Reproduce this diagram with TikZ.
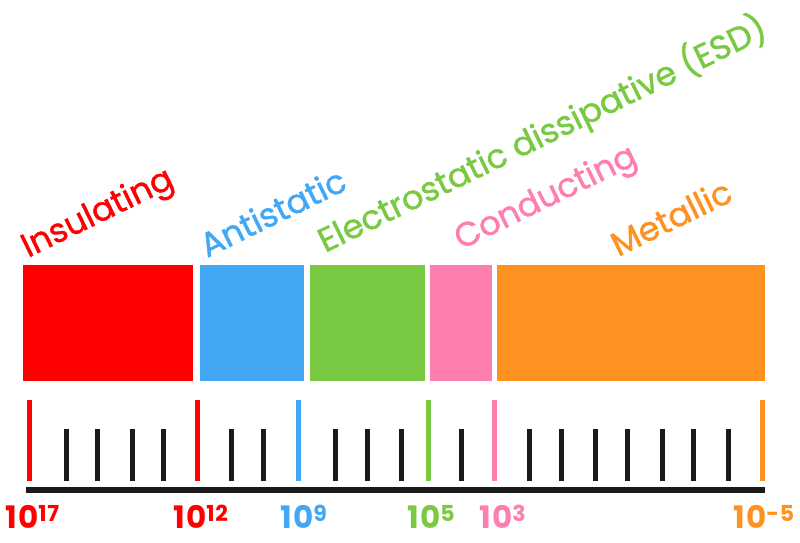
\documentclass[tikz,border=0pt]{standalone}
\usepackage{fontspec}
\setmainfont{Poppins}
\newfontfamily\labfont[FakeBold=1.2]{Poppins}
\newfontfamily\numfont[LetterSpace=4]{Poppins}
\definecolor{cred}{RGB}{255,0,0}
\definecolor{cblue}{RGB}{66,168,245}
\definecolor{cgreen}{RGB}{122,201,67}
\definecolor{cpink}{RGB}{255,126,176}
\definecolor{corange}{RGB}{255,145,32}
\definecolor{cdark}{RGB}{26,26,26}
\newcommand{\pw}[2]{{\numfont\fontsize{31}{31}\selectfont\bfseries #1}\raisebox{7pt}{\numfont\fontsize{22}{22}\selectfont\bfseries #2}}
\begin{document}
\begin{tikzpicture}[x=1pt,y=-1pt,
  cat/.style={rotate=26,anchor=base west,inner sep=0pt,font=\labfont\fontsize{33.5}{33.5}\selectfont},
  num/.style={anchor=base west,inner sep=0pt},
  tall/.style={line width=5pt},
  short/.style={line width=5pt,cdark}]
\useasboundingbox (0,0) rectangle (800,543);
% bars
\fill[cred] (23,265) rectangle (193,381);
\fill[cblue] (200,265) rectangle (304,381);
\fill[cgreen] (310,265) rectangle (425,381);
\fill[cpink] (430,265) rectangle (492,381);
\fill[corange] (497,265) rectangle (765,381);
% category labels
\node[cat,text=cred] (ins) at (28,258) {Insulating};
\node[cat,text=cblue] (ant) at (207,258) {Antistatic};
\node[cat,text=cgreen] (esd) at (325,253) {Electrostatic dissipative (ESD)};
\node[cat,text=cpink] (con) at (461,250) {Conducting};
\node[cat,text=corange] (met) at (618,257) {Metallic};
% axis
\draw[cdark,line width=6pt] (26,489.5) -- (765,489.5);
% tall ticks
\draw[tall,cred] (29,400) -- (29,481);
\draw[tall,cred] (197,400) -- (197,481);
\draw[tall,cblue] (298,400) -- (298,481);
\draw[tall,cgreen] (428,400) -- (428,481);
\draw[tall,cpink] (494,400) -- (494,481);
\draw[tall,corange] (762,400) -- (762,481);
% short ticks
\foreach \x in {66,97,132,163,231,263,335,367,401,461,529,561,595,627,662,693,728}
  \draw[short] (\x,429) -- (\x,481);
% numbers
\node[num,text=cred] (n17) at (5,528) {\pw{10}{17}};
\node[num,text=cred] (n12) at (173,528) {\pw{10}{12}};
\node[num,text=cblue] (n9) at (280,528) {\pw{10}{9}};
\node[num,text=cgreen] (n5) at (407,528) {\pw{10}{5}};
\node[num,text=cpink] (n3) at (479,528) {\pw{10}{3}};
\node[num,text=corange] (nm5) at (733,528) {\pw{10}{-5}};
\end{tikzpicture}
\end{document}
